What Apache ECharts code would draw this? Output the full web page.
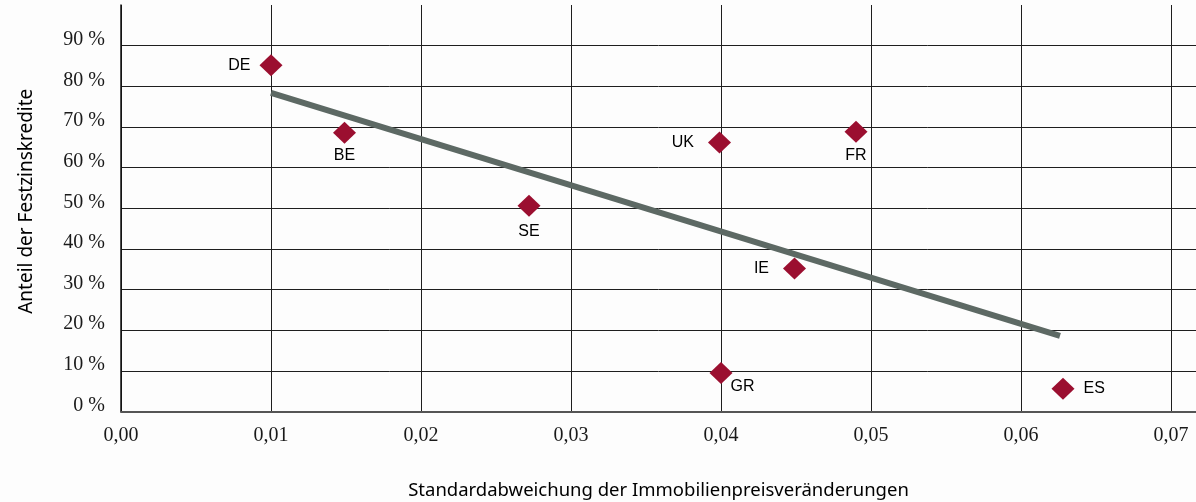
<!DOCTYPE html>
<html>
<head>
<meta charset="utf-8">
<script src="https://cdn.jsdelivr.net/npm/echarts@6/dist/echarts.min.js"></script>
<style>
  html, body { margin: 0; padding: 0; background: #fdfdfd; }
  #chart { width: 1196px; height: 502px; }
</style>
</head>
<body>
<div id="chart"></div>
<script>
// Länder und Werte
var countries = ['DE', 'BE', 'SE', 'UK', 'FR', 'IE', 'GR', 'ES'];
var priceStdDev = [0.0100, 0.0149, 0.0272, 0.0399, 0.0490, 0.0449, 0.0400, 0.0628];
var fixedRateShare = [85.2, 68.6, 50.6, 66.2, 68.8, 35.2, 9.5, 5.6];

// Regressionsgerade (Anfangs- und Endpunkt)
var trendX = [0.0100, 0.0626];
var trendY = [78.4, 18.6];

var labelStyle = {
	DE: { position: 'left', distance: 9 },
	BE: { position: 'bottom', distance: 4 },
	SE: { position: 'bottom', distance: 7 },
	UK: { position: 'left', distance: 14 },
	FR: { position: 'bottom', distance: 5 },
	IE: { position: 'left', distance: 14 },
	GR: { position: [21, 25], align: 'left', verticalAlign: 'middle' },
	ES: { position: 'right', distance: 9 }
};

var points = [];
for (var i = 0; i < countries.length; i++) {
	points.push({
		name: countries[i],
		value: [priceStdDev[i], fixedRateShare[i]],
		label: labelStyle[countries[i]]
	});
}
var trend = [];
for (var j = 0; j < trendX.length; j++) {
	trend.push([trendX[j], trendY[j]]);
}

var gridColor = '#1e1e1e';
var xSplitColors = [gridColor, gridColor, gridColor, gridColor, gridColor, gridColor, gridColor, gridColor, 'rgba(0,0,0,0)'];
var ySplitColors = [gridColor, gridColor, gridColor, gridColor, gridColor, gridColor, gridColor, gridColor, gridColor, gridColor, 'rgba(0,0,0,0)'];

var chart = echarts.init(document.getElementById('chart'));
chart.setOption({
	backgroundColor: '#fdfdfd',
	animation: false,
	grid: { left: 121, right: 0, top: 5, bottom: 90.5, containLabel: false, outerBoundsMode: 'none' },
	xAxis: {
		type: 'value',
		min: 0,
		max: 0.071667,
		interval: 0.01,
		name: 'Standardabweichung der Immobilienpreisveränderungen',
		nameLocation: 'middle',
		nameGap: 70,
		nameTextStyle: { fontFamily: 'Noto Sans', fontSize: 18.5, color: '#000' },
		axisLine: { show: true, lineStyle: { color: '#555', width: 2 } },
		axisTick: { show: false },
		axisLabel: {
			showMaxLabel: false,
			margin: 14,
			fontFamily: 'Liberation Serif',
			fontSize: 20,
			lineHeight: 20,
			color: '#1a1a1a',
			formatter: function(v) {
				if (v > 0.0705) return '';
				return v.toFixed(2).replace('.', ',');
			}
		},
		splitLine: { show: true, lineStyle: { color: xSplitColors, width: 1 } }
	},
	yAxis: {
		type: 'value',
		min: 0,
		max: 100,
		interval: 10,
		name: 'Anteil der Festzinskredite',
		nameLocation: 'middle',
		nameGap: 85,
		nameTextStyle: { fontFamily: 'Noto Sans', fontSize: 19, color: '#000', padding: [0, 0, 0, 14] },
		axisLine: { show: true, lineStyle: { color: '#111', width: 1.5 } },
		axisTick: { show: false },
		axisLabel: {
			showMaxLabel: false,
			margin: 16,
			fontFamily: 'Liberation Serif',
			fontSize: 20,
			lineHeight: 12,
			verticalAlign: 'bottom',
			color: '#1a1a1a',
			formatter: function(v) {
				if (v > 95) return '';
				return v + ' %';
			}
		},
		splitLine: { show: true, lineStyle: { color: ySplitColors, width: 1 } }
	},
	series: [
		{
			name: 'Trend',
			type: 'line',
			data: trend,
			symbol: 'none',
			lineStyle: { color: '#5d6964', width: 6, cap: 'butt' },
			z: 2
		},
		{
			name: 'Länder',
			type: 'scatter',
			data: points,
			symbol: 'diamond',
			symbolSize: [23, 22],
			itemStyle: { color: '#9b0f30', opacity: 1 },
			label: {
				show: true,
				formatter: '{b}',
				fontFamily: 'Liberation Sans',
				fontSize: 16,
				color: '#000'
			},
			z: 3
		}
	]
});
</script>
</body>
</html>
